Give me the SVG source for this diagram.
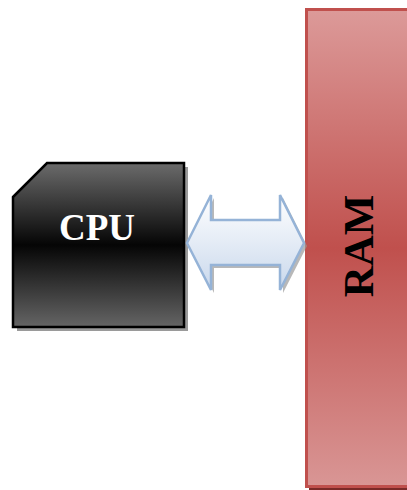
<svg xmlns="http://www.w3.org/2000/svg" width="407" height="490" viewBox="0 0 407 490">
<defs>
<linearGradient id="cpuG" x1="0" y1="0" x2="0" y2="1">
<stop offset="0" stop-color="#6b6b6b"/>
<stop offset="0.5" stop-color="#050505"/>
<stop offset="1" stop-color="#656565"/>
</linearGradient>
<linearGradient id="ramG" x1="0" y1="0" x2="0" y2="1">
<stop offset="0" stop-color="#dc9a99"/>
<stop offset="0.5" stop-color="#c0504d"/>
<stop offset="1" stop-color="#d99695"/>
</linearGradient>
<linearGradient id="arrG" x1="0" y1="0" x2="0" y2="1">
<stop offset="0" stop-color="#ffffff"/>
<stop offset="1" stop-color="#c9d8ec"/>
</linearGradient>
<style>
.lbl{font-family:"Liberation Serif","Times New Roman",serif;font-weight:bold;text-anchor:middle}
</style>
</defs>
<g id="ram">
<rect x="309" y="12" width="110" height="478" fill="#7a2a28"/>
<rect x="306.5" y="9.5" width="110" height="477" fill="url(#ramG)" stroke="#c0504d" stroke-width="3"/>
<text class="lbl" x="0" y="0" font-size="43" fill="#000" transform="translate(373,246) rotate(-90)">RAM</text>
</g>
<g id="cpu">
<polygon points="17,201 51,167 188,167 188,331 17,331" fill="#9a9a9a"/>
<polygon points="13,197 47,163 184,163 184,327 13,327" fill="url(#cpuG)" stroke="#000" stroke-width="2.5"/>
<text class="lbl" x="97" y="240" font-size="37" fill="#fff">CPU</text>
</g>
<g id="connectors">
<polygon points="190,246 214,198 214,223 283,223 283,198 307,246 283,293 283,268 214,268 214,293" fill="#9a9a9a" opacity="0.7"/>
<polygon points="187,243 211,195 211,220 280,220 280,195 304,243 280,290 280,265 211,265 211,290" fill="url(#arrG)" stroke="#95b3d7" stroke-width="2.5" stroke-linejoin="miter"/>
</g>
</svg>
